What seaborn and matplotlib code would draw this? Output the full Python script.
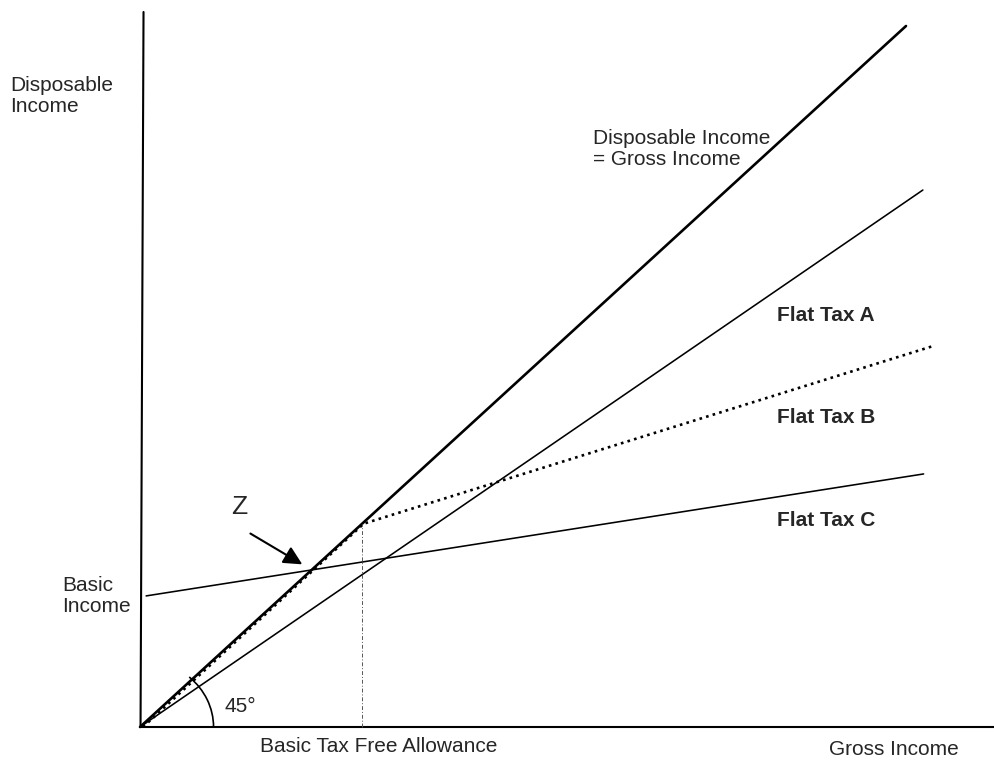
import matplotlib
matplotlib.use('Agg')
import matplotlib.pyplot as plt
import seaborn as sns
from matplotlib.patches import Arc

# income units: gross income on x, disposable income on y
GROSS_EQ = [0, 100]          # disposable income = gross income (45 degree line)
DISP_EQ = [0, 100]

GROSS_A = [0, 102.2]         # flat tax A, no allowance
DISP_A = [0, 76.6]

ALLOWANCE = 29               # basic tax free allowance
GROSS_B = [0.4, 29.2, 103.4]
DISP_B = [0, 29.0, 54.3]

BASIC_INCOME = 18.6          # flat tax C with basic income
GROSS_C = [0.8, 102.3]
DISP_C = [18.7, 36.1]

Z_POINT = (21.5, 23.0)       # where flat tax C meets the 45 degree line
Z_TAIL = (14.1, 27.8)

W, H = 995, 761
FONT = 'Liberation Sans'


def px(x, y):
    # pixel position in the picture -> figure fraction
    return x / W, 1 - y / H


sns.set_style('white')
plt.rcParams['font.family'] = [FONT, 'DejaVu Sans']

fig = plt.figure(figsize=(W / 100, H / 100), dpi=100)
ax = fig.add_axes([0, 0, 1, 1])
ax.set_xlim(-140 / 7.66, 855 / 7.66)
ax.set_ylim(-34 / 7.01, 727 / 7.01)
ax.axis('off')

# axes drawn as plain lines
sns.lineplot(x=[0.07, 0.46], y=[0, 102.0], color='black', lw=1.5, ax=ax)
sns.lineplot(x=[0, 112], y=[0, 0], color='black', lw=1.5, ax=ax)

sns.lineplot(x=GROSS_EQ, y=DISP_EQ, color='black', lw=1.9, ax=ax)
sns.lineplot(x=GROSS_A, y=DISP_A, color='black', lw=1.15, ax=ax)
sns.lineplot(x=GROSS_C, y=DISP_C, color='black', lw=1.15, ax=ax)
ax.plot(GROSS_B, DISP_B, color='black', lw=1.9, linestyle=(0, (1, 1.6)))

# allowance marker
ax.plot([ALLOWANCE, ALLOWANCE], [0, ALLOWANCE], color='#555555', lw=0.7,
        linestyle=(0, (4, 2, 1, 2)))

# 45 degree arc
ax.add_patch(Arc((0, 0), 2 * 9.6, 2 * 9.6, theta1=0, theta2=48, color='black', lw=1.2))

# arrow pointing at Z
ax.annotate('', xy=Z_POINT, xytext=Z_TAIL,
            arrowprops=dict(arrowstyle='-|>', color='black', lw=1.5, mutation_scale=28))

fs = 15
# va='baseline' on multi-line text anchors the last line
kw = dict(transform=fig.transFigure, fontsize=fs, va='baseline', ha='left', linespacing=1.15)
fig.text(*px(10, 112), 'Disposable\nIncome', **kw)
fig.text(*px(62, 612), 'Basic\nIncome', **kw)
fig.text(*px(593, 165), 'Disposable Income\n= Gross Income', **kw)
fig.text(*px(777, 321), 'Flat Tax A', fontweight='bold', **kw)
fig.text(*px(777, 423), 'Flat Tax B', fontweight='bold', **kw)
fig.text(*px(777, 526), 'Flat Tax C', fontweight='bold', **kw)
fig.text(*px(225, 712), '45°', **kw)
fig.text(*px(260, 752), 'Basic Tax Free Allowance', **kw)
fig.text(*px(829, 755), 'Gross Income', **kw)
fig.text(*px(239, 514), 'Z', transform=fig.transFigure, fontsize=19, va='baseline', ha='center')

fig.savefig('out.png', dpi=100)
